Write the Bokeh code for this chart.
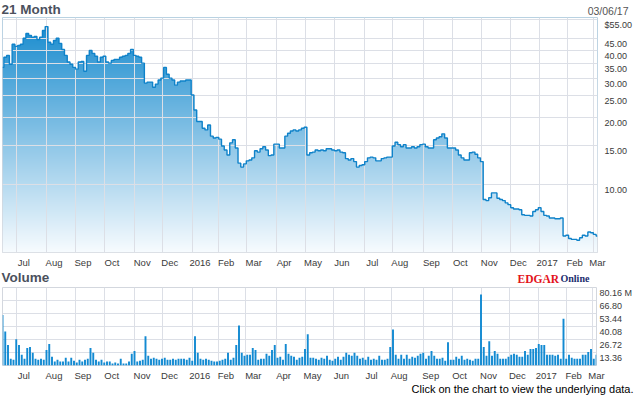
import numpy as np
import pandas as pd
from bokeh.plotting import figure
from bokeh.layouts import column
from bokeh.models import Range1d, FixedTicker, CustomJSTickFormatter
from bokeh.core.properties import value
from bokeh.embed import file_html
from bokeh.resources import INLINE

holidays = ["2015-07-03", "2015-09-07", "2015-11-26", "2015-12-25", "2016-01-01",
            "2016-01-18", "2016-02-15", "2016-03-25", "2016-05-30", "2016-07-04",
            "2016-09-05", "2016-11-24", "2016-12-26", "2017-01-02", "2017-01-16",
            "2017-02-20"]

price = [
    33.5, 37.2, 37.9, 34.6, 42.5, 41.6, 42.0, 42.5, 45.2, 47.5,
    46.6, 45.7, 46.1, 44.6, 45.7, 49.0, 51.0, 43.4, 42.5, 44.2,
    45.2, 42.9, 40.3, 37.9, 35.4, 34.6, 33.5, 32.9, 35.4, 35.6,
    32.2, 37.9, 39.9, 38.7, 37.6, 35.4, 37.2, 37.6, 35.4, 35.0,
    36.0, 36.4, 36.4, 37.2, 37.6, 37.9, 38.7, 40.3, 37.9, 37.6,
    37.2, 35.0, 28.5, 28.8, 28.8, 27.3, 28.2, 29.4, 30.0, 33.5,
    31.2, 30.0, 29.4, 27.9, 28.8, 29.1, 29.1, 29.4, 29.4, 25.2,
    21.6, 19.2, 19.2, 17.9, 17.6, 18.5, 16.5, 16.2, 16.3, 16.0,
    14.9, 14.3, 13.6, 15.4, 15.9, 14.6, 12.5, 12.0, 12.4, 12.8,
    12.9, 13.2, 14.2, 14.0, 14.5, 14.8, 14.3, 13.5, 13.6, 15.2,
    15.2, 14.6, 14.6, 16.5, 17.0, 17.4, 17.6, 17.4, 17.6, 17.9,
    18.1, 13.6, 13.9, 14.0, 14.3, 14.2, 14.3, 14.2, 14.5, 14.5,
    14.3, 14.2, 14.3, 14.0, 13.9, 13.1, 12.9, 13.1, 12.7, 12.0,
    12.2, 12.3, 12.7, 13.2, 13.3, 13.2, 12.8, 12.8, 13.1, 13.2,
    13.3, 13.3, 14.9, 15.5, 15.1, 14.8, 15.1, 14.6, 14.6, 14.8,
    14.6, 14.8, 15.1, 15.2, 14.8, 14.6, 14.6, 15.9, 16.2, 16.4,
    16.9, 16.2, 14.6, 14.6, 14.6, 14.3, 13.6, 13.2, 12.9, 12.9,
    13.9, 14.0, 13.7, 13.2, 12.7, 8.6, 8.5, 8.75, 9.2, 9.2,
    8.7, 8.6, 8.5, 8.3, 8.15, 7.9, 7.8, 7.8, 7.74, 7.35,
    7.3, 7.3, 7.25, 7.6, 7.74, 7.9, 7.6, 7.3, 7.25, 7.1,
    7.1, 7.05, 7.05, 7.1, 5.9, 5.95, 5.75, 5.7, 5.7, 5.65,
    5.8, 5.95, 5.9, 6.15, 6.1, 6.0, 5.9,
]

volume = [
    52, 35, 21, 7, 6, 27, 21, 11, 7, 18,
    19, 13, 7, 6, 7, 6, 16, 22, 9, 4,
    6, 4, 4, 8, 4, 8, 5, 3, 6, 4,
    6, 7, 18, 13, 6, 4, 6, 3, 4, 4,
    2, 3, 2, 7, 2, 2, 4, 12, 15, 4,
    5, 6, 30, 10, 7, 8, 7, 6, 7, 8,
    6, 6, 7, 6, 7, 7, 7, 6, 8, 5,
    30, 13, 7, 6, 7, 6, 5, 4, 4, 5,
    6, 7, 13, 6, 8, 21, 41, 13, 10, 11,
    11, 18, 16, 6, 7, 7, 12, 10, 16, 21,
    8, 9, 6, 22, 12, 10, 9, 6, 8, 9,
    17, 32, 8, 8, 7, 6, 8, 7, 10, 6,
    5, 7, 9, 6, 9, 13, 11, 10, 13, 10,
    7, 8, 6, 9, 6, 7, 6, 10, 6, 6,
    7, 19, 37, 11, 7, 11, 7, 11, 7, 9,
    8, 10, 12, 13, 7, 10, 15, 10, 7, 7,
    8, 5, 24, 6, 6, 9, 7, 10, 6, 7,
    6, 5, 7, 7, 73, 19, 10, 25, 10, 15,
    12, 7, 7, 7, 9, 11, 12, 11, 9, 9,
    15, 11, 17, 17, 18, 22, 21, 21, 11, 11,
    11, 10, 11, 7, 48, 7, 11, 8, 7, 7,
    7, 11, 11, 14, 17, 7, 11,
]

month_labels = ["Jul", "Aug", "Sep", "Oct", "Nov", "Dec", "2016", "Feb", "Mar", "Apr",
                "May", "Jun", "Jul", "Aug", "Sep", "Oct", "Nov", "Dec", "2017", "Feb", "Mar"]
price_ticks = [55, 45, 40, 35, 30, 25, 20, 15, 10]
price_tick_labels = ["$55.00", "45.00", "40.00", "35.00", "30.00", "25.00", "20.00", "15.00", "10.00"]
volume_ticks = [13.36, 26.72, 40.08, 53.44, 66.80, 80.16]
volume_tick_labels = ["13.36", "26.72", "40.08", "53.44", "66.80", "80.16 M"]
title_text = "21 Month"
as_of_text = "03/06/17"
volume_title = "Volume"
logo_words = ["EDGAR", "Online"]
footer_text = "Click on the chart to view the underlying data."

days = pd.bdate_range("2015-06-17", "2017-03-06")
days = days[~days.isin(pd.to_datetime(holidays))]
X0, X1 = 0, len(days) - 1
sample = np.arange(len(days))[::2]
n = min(len(sample), len(price), len(volume))
xs = sample[:n]
price = price[:n]
volume = volume[:n]
month_start = [i for i in range(1, len(days)) if days[i].month != days[i - 1].month]

W_ALL = 635
YMIN, YMAX = 4.98, 56.0
VMAX = 80.16
FRAME_W, FRAME_H, VOL_H = 596, 236, 80
px_per_day = FRAME_W / (X1 - X0)
px_per_ln = FRAME_H / np.log(YMAX / YMIN)

label_x = [min(m + 7.5 / px_per_day, X1) for m in month_start]
price_label_pos = [v * np.exp(-5.5 / px_per_ln) for v in price_ticks]
vol_label_pos = [v - 5.5 * VMAX / VOL_H for v in volume_ticks]

FONT = "Liberation Sans"
GRID = "#dcdfe6"
LBL = "#3a3a3a"
TITLE_C = "#4b515d"

JS_LIN = """
let best = 0, bd = Infinity;
for (let i = 0; i < pos.length; i++) {
  const d = Math.abs(pos[i] - tick);
  if (d < bd) { bd = d; best = i; }
}
return labels[best];
"""
JS_LOG = """
let best = 0, bd = Infinity;
for (let i = 0; i < pos.length; i++) {
  const d = Math.abs(Math.log(pos[i]) - Math.log(tick));
  if (d < bd) { bd = d; best = i; }
}
return labels[best];
"""


def no_align(fig):
    try:
        fig.frame_align = False
    except Exception:
        pass


def style_axis(ax, size, standoff):
    ax.axis_line_color = None
    ax.major_tick_line_color = None
    ax.minor_tick_line_color = None
    ax.major_tick_out = 0
    ax.minor_tick_out = 0
    ax.major_label_text_font = FONT
    ax.major_label_text_font_size = size
    ax.major_label_text_color = LBL
    ax.major_label_standoff = standoff


def style_x(fig):
    ax = fig.xaxis[0]
    ax.ticker = FixedTicker(ticks=label_x)
    ax.formatter = CustomJSTickFormatter(args=dict(pos=label_x, labels=month_labels), code=JS_LIN)
    style_axis(ax, "9.5px", 4)
    fig.xgrid.ticker = FixedTicker(ticks=month_start)
    fig.xgrid.grid_line_color = GRID


def strip(height):
    s = figure(width=W_ALL, height=height, x_range=Range1d(0, W_ALL), y_range=Range1d(height, 0),
               x_axis_type=None, y_axis_type=None, output_backend="svg", toolbar_location=None,
               min_border=0, min_border_left=0, min_border_right=0, min_border_top=0,
               min_border_bottom=0)
    s.outline_line_color = None
    s.background_fill_color = "white"
    s.border_fill_color = "white"
    no_align(s)
    return s


def put_text(fig, x, y, txt, size, color, align="left", baseline="middle", font=FONT, style="normal"):
    fig.text(x=[x], y=[y], text=[txt], text_font=value(font), text_font_size=size,
             text_font_style=style, text_color=color, text_align=align, text_baseline=baseline)


x_range = Range1d(X0, X1)

head = strip(17)
put_text(head, 1, 8.5, title_text, "13.5px", TITLE_C, style="bold")
put_text(head, 628, 10, as_of_text, "10.5px", "#555555", align="right")

p = figure(width=W_ALL, height=253, x_range=x_range, y_range=Range1d(YMIN, YMAX),
           y_axis_type="log", y_axis_location="right",
           output_backend="svg", toolbar_location=None,
           min_border_left=2, min_border_right=37, min_border_top=0, min_border_bottom=17)
no_align(p)
p.outline_line_color = "#d3d7de"
p.background_fill_color = "white"
p.border_fill_color = "white"

H, W = 236, 8
t = np.linspace(0.0, 1.0, H)[:, None]
c_top = np.array([20, 137, 205], dtype=float)
c_bot = np.array([247, 251, 254], dtype=float)
rgb = c_bot + (c_top - c_bot) * t
img = np.zeros((H, W), dtype=np.uint32)
view = img.view(dtype=np.uint8).reshape((H, W, 4))
for c in range(3):
    view[:, :, c] = np.round(rgb[:, c:c + 1]).astype(np.uint8)
view[:, :, 3] = 255
p.image_rgba(image=[img], x=X0, y=YMIN, dw=X1 - X0, dh=YMAX - YMIN, level="image")

top = [YMAX] * n
try:
    p.varea_step(x=xs, y1=price, y2=top, step_mode="center", fill_color="white", level="image")
except AttributeError:
    p.varea(x=xs, y1=price, y2=top, fill_color="white", level="image")

p.step(x=xs, y=price, mode="center", line_color="#0f82c9", line_width=1.4)

style_x(p)
ya = p.yaxis[0]
ya.ticker = FixedTicker(ticks=price_label_pos)
ya.formatter = CustomJSTickFormatter(args=dict(pos=price_label_pos, labels=price_tick_labels), code=JS_LOG)
style_axis(ya, "9px", 7)
p.ygrid.ticker = FixedTicker(ticks=price_ticks)
p.ygrid.grid_line_color = GRID

mid = strip(17)
put_text(mid, 1, 6.5, volume_title, "13.5px", TITLE_C, style="bold")
put_text(mid, 517, 8.2, logo_words[0], "11.5px", "#e3131b", baseline="alphabetic",
         font="Liberation Serif", style="bold")
put_text(mid, 560, 8.2, logo_words[1], "10px", "#1b2d6e", baseline="alphabetic",
         font="Liberation Serif", style="bold")

v = figure(width=W_ALL, height=96, x_range=x_range, y_range=Range1d(0, VMAX),
           y_axis_location="right", output_backend="svg", toolbar_location=None,
           min_border_left=2, min_border_right=37, min_border_top=0, min_border_bottom=16)
no_align(v)
v.outline_line_color = "#d3d7de"
v.background_fill_color = "white"
v.border_fill_color = "white"
v.vbar(x=xs, top=volume, width=1.4, bottom=0, fill_color="#138ad2", line_color=None)

style_x(v)
va = v.yaxis[0]
va.ticker = FixedTicker(ticks=vol_label_pos)
va.formatter = CustomJSTickFormatter(args=dict(pos=vol_label_pos, labels=volume_tick_labels), code=JS_LIN)
style_axis(va, "9px", 3)
v.ygrid.ticker = FixedTicker(ticks=volume_ticks)
v.ygrid.grid_line_color = GRID

foot = strip(12)
put_text(foot, 633, 5.5, footer_text, "11px", "#000000", align="right")

layout = column(head, p, mid, v, foot, spacing=0)
open("out.html", "w").write(file_html(layout, INLINE))
